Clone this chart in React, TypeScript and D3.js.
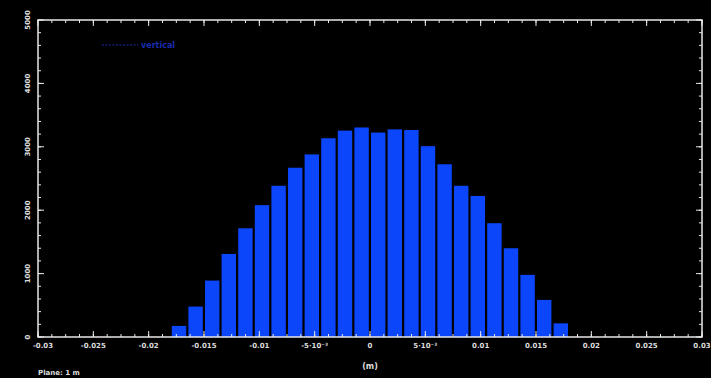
import React from "react";
import * as d3 from "d3";

// histogram bins (left edge), width 0.0015
const binStarts = [
  -0.018, -0.0165, -0.015, -0.0135, -0.012, -0.0105, -0.009, -0.0075, -0.006, -0.0045, -0.003, -0.0015,
  0, 0.0015, 0.003, 0.0045, 0.006, 0.0075, 0.009, 0.0105, 0.012, 0.0135, 0.015, 0.0165,
];
const counts = [
  175, 480, 890, 1310, 1715, 2080, 2385, 2670, 2880, 3135, 3255, 3305,
  3225, 3275, 3265, 3010, 2725, 2385, 2225, 1795, 1400, 980, 585, 215,
];
const binWidth = 0.0015;
const xTicks = [-0.03, -0.025, -0.02, -0.015, -0.01, -0.005, 0, 0.005, 0.01, 0.015, 0.02, 0.025, 0.03];
const xTickLabels = ["-0.03", "-0.025", "-0.02", "-0.015", "-0.01", "-5·10⁻³", "0", "5·10⁻³", "0.01", "0.015", "0.02", "0.025", "0.03"];
const yTicks = [0, 1000, 2000, 3000, 4000, 5000];

const W = 711;
const H = 378;
const m = { left: 38, right: 9, top: 20, bottom: 41 };

export default function App() {
  const x = d3.scaleLinear().domain([-0.03, 0.03]).range([m.left, W - m.right]);
  const y = d3.scaleLinear().domain([0, 5000]).range([H - m.bottom, m.top]);
  const x0 = m.left, x1 = W - m.right, y0 = H - m.bottom, y1 = m.top;

  const xMinor = d3.range(-0.03, 0.03 + 1e-9, 0.00125);
  const yMinor = d3.range(0, 5000 + 1e-9, 200);
  const col = "#e8e8e8";

  return (
    <div style={{ position: "fixed", left: 0, top: 0, background: "#000" }}>
      <svg width={W} height={H} style={{ display: "block", background: "#000" }}
        fontFamily="DejaVu Sans" >
        {/* bars */}
        {binStarts.map((b, i) => (
          <rect key={i} x={x(b) + 1} y={y(counts[i])}
            width={x(b + binWidth) - x(b) - 2.2} height={y(0) - y(counts[i])}
            fill="#0b46fa" />
        ))}
        {/* minor ticks */}
        {xMinor.map((t, i) => (
          <g key={"xm" + i} stroke={col} strokeWidth={1}>
            <line x1={x(t)} x2={x(t)} y1={y0} y2={y0 - 3} />
            <line x1={x(t)} x2={x(t)} y1={y1} y2={y1 + 3} />
          </g>
        ))}
        {yMinor.map((t, i) => (
          <g key={"ym" + i} stroke={col} strokeWidth={1}>
            <line x1={x0} x2={x0 + 3} y1={y(t)} y2={y(t)} />
            <line x1={x1} x2={x1 - 3} y1={y(t)} y2={y(t)} />
          </g>
        ))}
        {/* major ticks + labels */}
        {xTicks.map((t, i) => (
          <g key={"x" + i}>
            <line x1={x(t)} x2={x(t)} y1={y0} y2={y0 - 6} stroke={col} />
            <line x1={x(t)} x2={x(t)} y1={y1} y2={y1 + 6} stroke={col} />
            <text x={x(t) + (i === 0 ? 5 : 0)} y={y0 + 11} fill="#ddd" fontSize={7}
              fontWeight="bold" textAnchor="middle">{xTickLabels[i]}</text>
          </g>
        ))}
        {yTicks.map((t, i) => (
          <g key={"y" + i}>
            <line x1={x0} x2={x0 + 6} y1={y(t)} y2={y(t)} stroke={col} />
            <line x1={x1} x2={x1 - 6} y1={y(t)} y2={y(t)} stroke={col} />
            <text transform={`translate(${x0 - 10},${y(t)}) rotate(-90)`} fill="#ddd"
              fontSize={7} fontWeight="bold" textAnchor="middle" dy="0.35em">{t}</text>
          </g>
        ))}
        {/* frame */}
        <rect x={x0} y={y1} width={x1 - x0} height={y0 - y1} fill="none" stroke={col} strokeWidth={1.5} />
        {/* legend */}
        <line x1={102} x2={138} y1={45} y2={45} stroke="#131d70" strokeWidth={1.5} strokeDasharray="2,1.5" />
        <text x={141} y={48} fill="#1a2cae" fontSize={8} fontWeight="bold">vertical</text>
        {/* axis label */}
        <text x={x(0)} y={369} fill="#ddd" fontSize={8} fontWeight="bold" textAnchor="middle">(m)</text>
        <text x={38} y={375} fill="#ddd" fontSize={7} fontWeight="bold">Plane: 1 m</text>
      </svg>
    </div>
  );
}
